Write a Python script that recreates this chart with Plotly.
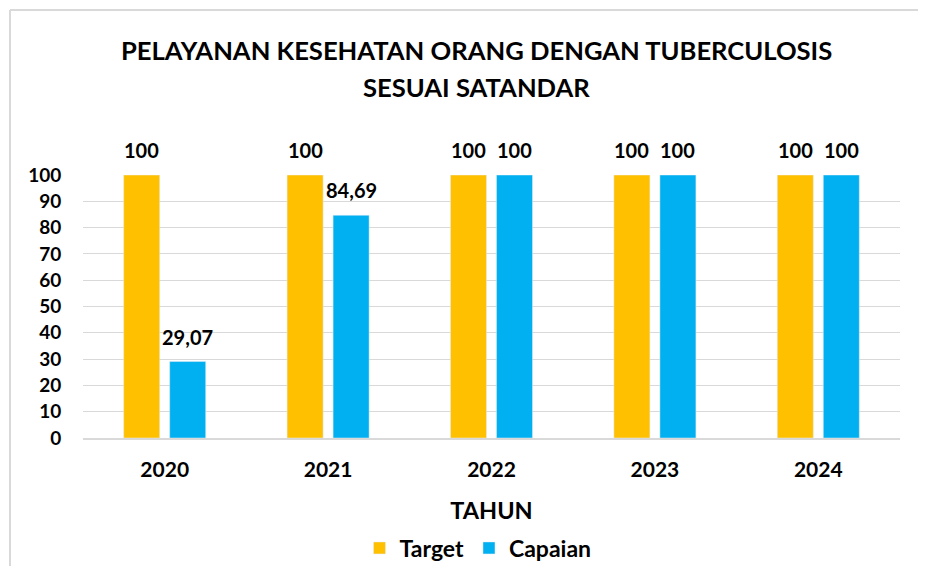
import plotly.graph_objects as go

years = ["2020", "2021", "2022", "2023", "2024"]
target = [100, 100, 100, 100, 100]
capaian = [29.07, 84.69, 100, 100, 100]
y_ticks = [0, 10, 20, 30, 40, 50, 60, 70, 80, 90, 100]
title_lines = ["PELAYANAN KESEHATAN ORANG DENGAN TUBERCULOSIS", "SESUAI SATANDAR"]

FONT = "Lato"
OFF = 8  # page body margin
W, H = 926 - 2 * OFF, 574 - 2 * OFF
L, R, T, B = 83 - OFF, 26 - OFF, 175 - OFF, 136 - OFF
plot_w = W - L - R
plot_h = H - T - B
BARGAP, GROUPGAP = 0.437, 0.217

def fmt(v):
    return f"{v:g}".replace(".", ",")

def py(pix):
    return (T + plot_h - (pix - OFF)) / plot_h

def px(pix):
    return (pix - OFF - L) / plot_w

def f(size):
    return dict(family=FONT, size=size, color="#000000", weight=700)

fig = go.Figure()
fig.add_trace(go.Bar(name="Target", x=years, y=target, marker_color="#FFC000"))
fig.add_trace(go.Bar(name="Capaian", x=years, y=capaian, marker_color="#00B0F0"))

annotations = []
cat_w = plot_w / len(years)
slot = cat_w * (1 - BARGAP) / 2
for series, sign in ((target, -1), (capaian, 1)):
    for i, v in enumerate(series):
        annotations.append(dict(
            x=i, y=v, xref="x", yref="y", text=fmt(v), showarrow=False,
            xshift=sign * slot / 2, yshift=25, font=f(20),
        ))

for line, ypix in zip(title_lines, (50, 87)):
    annotations.append(dict(
        x=px(476), y=py(ypix), xref="paper", yref="paper", text=line, showarrow=False,
        xanchor="center", yanchor="middle", font=f(25.6),
    ))

fig.update_layout(
    width=W, height=H, autosize=False,
    margin=dict(l=L, r=R, t=T, b=B, pad=0, autoexpand=False),
    paper_bgcolor="white", plot_bgcolor="white",
    barmode="group", bargap=BARGAP, bargroupgap=GROUPGAP,
    xaxis=dict(
        type="category", categoryorder="array", categoryarray=years,
        range=[-0.5, len(years) - 0.5], autorange=False,
        showgrid=False, showline=True, linecolor="#D9D9D9", linewidth=2,
        ticks="outside", ticklen=12, tickcolor="rgba(0,0,0,0)", tickfont=f(21),
        title=dict(text="TAHUN", font=f(23.5), standoff=22),
    ),
    yaxis=dict(
        range=[0, 100], autorange=False, tickvals=y_ticks, showgrid=True,
        gridcolor="#D9D9D9", gridwidth=1, zeroline=False, showline=False,
        ticks="outside", ticklen=17, tickcolor="rgba(0,0,0,0)", tickfont=f(19),
    ),
    showlegend=True,
    legend=dict(
        orientation="h", x=px(478), xanchor="center",
        y=py(548), yanchor="middle", font=f(23),
    ),
    annotations=annotations,
    shapes=[
        dict(type="line", xref="paper", yref="paper",
             x0=px(10), x1=px(926), y0=py(10), y1=py(10),
             line=dict(color="#D9D9D9", width=2)),
        dict(type="line", xref="paper", yref="paper",
             x0=px(10), x1=px(10), y0=py(10), y1=py(574),
             line=dict(color="#D9D9D9", width=2)),
    ],
)

fig.write_html("out.html")
